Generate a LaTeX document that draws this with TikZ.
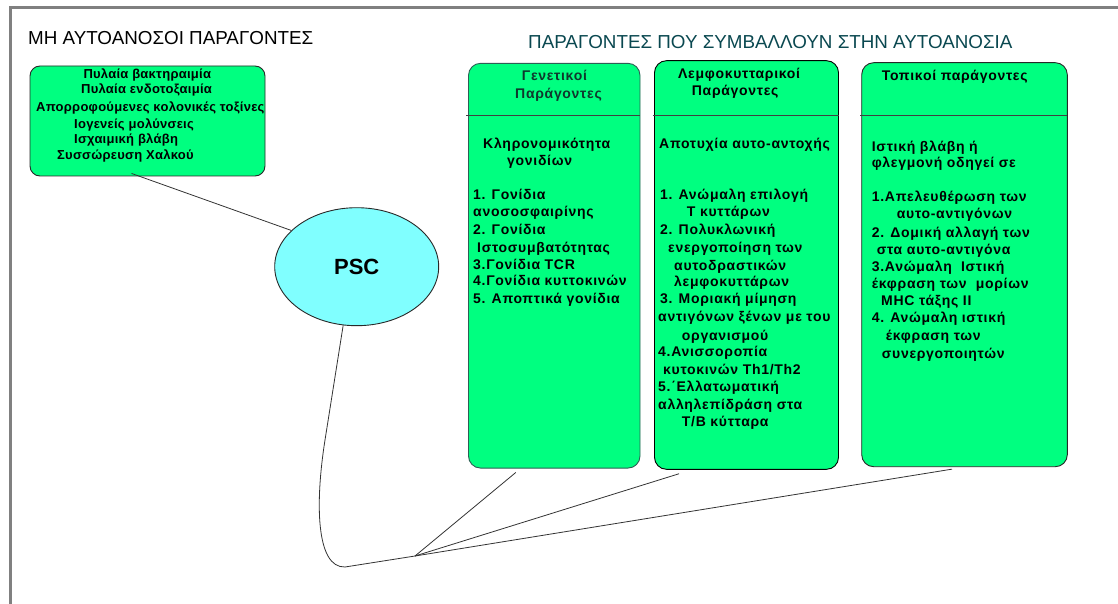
\documentclass[tikz,border=0pt]{standalone}
\usepackage{fontspec}
\setmainfont{Liberation Sans}
\usetikzlibrary{shapes.geometric}
\definecolor{boxgreen}{RGB}{0,255,128}
\definecolor{psccyan}{RGB}{128,255,255}
\definecolor{titleteal}{RGB}{10,72,80}
\definecolor{framegray}{RGB}{128,128,128}
\definecolor{edgegray}{RGB}{40,40,40}
\definecolor{genedge}{RGB}{45,95,85}
\definecolor{genhead}{RGB}{15,55,45}
\begin{document}
\begin{tikzpicture}[x=1pt,y=-1pt,
  gbox/.style={draw=edgegray, line width=0.9pt, fill=boxgreen, rounded corners=12pt, inner sep=0pt},
  conn/.style={draw=black!80, line width=0.8pt},
  divider/.style={draw=black!75, line width=1pt},
  ttl/.style={anchor=west, inner sep=0pt, font=\fontsize{18.8}{20}\selectfont},
  ln/.style={anchor=west, inner sep=0pt, text height=10pt, text depth=3pt, font=\fontsize{14}{16}\selectfont\bfseries\addfontfeature{LetterSpace=5}},
  lft/.style={anchor=west, inner sep=0pt, text height=9.5pt, text depth=2.5pt, font=\fontsize{13}{15}\selectfont\bfseries\addfontfeature{LetterSpace=2}}
]
\useasboundingbox (0,0) rectangle (1118,604);
% frame
\draw[framegray, line width=3pt] (10.5,604) -- (10.5,8) -- (1118,8);

% titles
\node[ttl] (t1) at (28,38) {ΜΗ ΑΥΤΟΑΝΟΣΟΙ ΠΑΡΑΓΟΝΤΕΣ};
\node[ttl, text=titleteal] (t2) at (528,42) {ΠΑΡΑΓΟΝΤΕΣ ΠΟΥ ΣΥΜΒΑΛΛΟΥΝ ΣΤΗΝ ΑΥΤΟΑΝΟΣΙΑ};

% boxes
\node[gbox, rounded corners=10pt, minimum width=235pt, minimum height=110pt] (left) at (147.5,121) {};
\node[gbox, draw=genedge, minimum width=171.5pt, minimum height=404.7pt] (gen) at (554.25,265.7) {};
\node[gbox, draw=black, minimum width=184pt, minimum height=408.6pt] (lym) at (746.5,265) {};
\node[gbox, minimum width=205.6pt, minimum height=404pt] (top) at (964.5,264.7) {};

% dividers
\draw[divider] (466,116) -- (640,116);
\draw[divider] (653,116) -- (838.5,116);
\draw[divider] (860,115.7) -- (1067.3,115.7);

% PSC
\node[ellipse, draw=edgegray, line width=0.9pt, fill=psccyan, minimum width=164pt, minimum height=118pt, inner sep=0pt,
  font=\fontsize{22}{24}\selectfont\bfseries] (psc) at (356.7,266.7) {PSC};

% left box text
\node[lft] (l1) at (83.3,75) {Πυλαία βακτηραιμία};
\node[lft] (l2) at (81,90) {Πυλαία ενδοτοξαιμία};
\node[lft] (l3) at (36,108) {Απορροφούμενες κολονικές τοξίνες};
\node[lft] (l4) at (74,125) {Ιογενείς μολύνσεις};
\node[lft] (l5) at (74,140) {Ισχαιμική βλάβη};
\node[lft] (l6) at (57,156) {Συσσώρευση Χαλκού};

% genetic column
\node[ln, text=genhead] (gh1) at (521.7,77.3) {Γενετικοί};
\node[ln, text=genhead] (gh2) at (515,95) {Παράγοντες};
\node[ln] (g1) at (483,145) {Κληρονομικότητα};
\node[ln] (g2) at (507,161.7) {γονιδίων};
\node[ln] (g3) at (473,196) {1. Γονίδια};
\node[ln] (g4) at (473,213) {ανοσοσφαιρίνης};
\node[ln] (g5) at (473,231) {2. Γονίδια};
\node[ln] (g6) at (477,249) {Ιστοσυμβατότητας};
\node[ln] (g7) at (473,266) {3.Γονίδια TCR};
\node[ln] (g8) at (473,282) {4.Γονίδια κυττοκινών};
\node[ln] (g9) at (473,300) {5. Αποπτικά γονίδια};

% lymphocyte column
\node[ln] (mh1) at (678,75) {Λεμφοκυτταρικοί};
\node[ln] (mh2) at (691.7,91.7) {Παράγοντες};
\node[ln] (m1) at (659,145) {Αποτυχία αυτο-αντοχής};
\node[ln] (m2) at (660,195.7) {1. Ανώμαλη επιλογή};
\node[ln] (m3) at (686.7,213.3) {Τ κυττάρων};
\node[ln] (m4) at (660,231) {2. Πολυκλωνική};
\node[ln] (m5) at (668,249) {ενεργοποίηση των};
\node[ln] (m6) at (674,266.7) {αυτοδραστικών};
\node[ln] (m7) at (674,283.3) {λεμφοκυττάρων};
\node[ln] (m8) at (660,300) {3. Μοριακή μίμηση};
\node[ln] (m9) at (658,318) {αντιγόνων ξένων με του};
\node[ln] (m10) at (681.7,336.7) {οργανισμού};
\node[ln] (m11) at (658,353) {4.Ανισσοροπία};
\node[ln] (m12) at (663,371) {κυτοκινών Th1/Th2};
\node[ln] (m13) at (658,388) {5.΄Ελλατωματική};
\node[ln] (m14) at (658,405.7) {αλληλεπίδράση στα};
\node[ln] (m15) at (681.7,422.7) {Τ/Β κύτταρα};

% topical column
\node[ln] (th1) at (881.7,77.3) {Τοπικοί παράγοντες};
\node[ln] (p1) at (871.7,148.3) {Ιστική βλάβη ή};
\node[ln] (p2) at (871.7,164.3) {φλεγμονή οδηγεί σε};
\node[ln] (p3) at (871.7,198.3) {1.Απελευθέρωση των};
\node[ln] (p4) at (896.7,215) {αυτο-αντιγόνων};
\node[ln] (p5) at (871.7,234) {2. Δομική αλλαγή των};
\node[ln] (p6) at (876.7,250.7) {στα αυτο-αντιγόνα};
\node[ln] (p7) at (871.7,268.3) {3.Ανώμαλη\ \ Ιστική};
\node[ln] (p8) at (871.7,285) {έκφραση των\ \ μορίων};
\node[ln] (p9) at (881,301.7) {MHC τάξης II};
\node[ln] (p10) at (871.7,319.3) {4. Ανώμαλη ιστική};
\node[ln] (p11) at (885.7,337.3) {έκφραση των};
\node[ln] (p12) at (881.7,355) {συνεργοποιητών};

% connectors
\coordinate (hub) at (415,556);
\draw[conn] ([xshift=102pt,yshift=3pt]left.south west) -- (psc.151);
\draw[conn] (psc.257) -- (325,440) .. controls (315,503) and (316,568) .. (345,567) -- (hub);
\draw[conn] (hub) -- ([xshift=-38.5pt,yshift=-4pt]gen.south);
\draw[conn] (hub) -- ([xshift=-67.5pt,yshift=-4pt]lym.south);
\draw[conn] (hub) -- ([xshift=-12.5pt,yshift=-2pt]top.south);
\end{tikzpicture}
\end{document}
